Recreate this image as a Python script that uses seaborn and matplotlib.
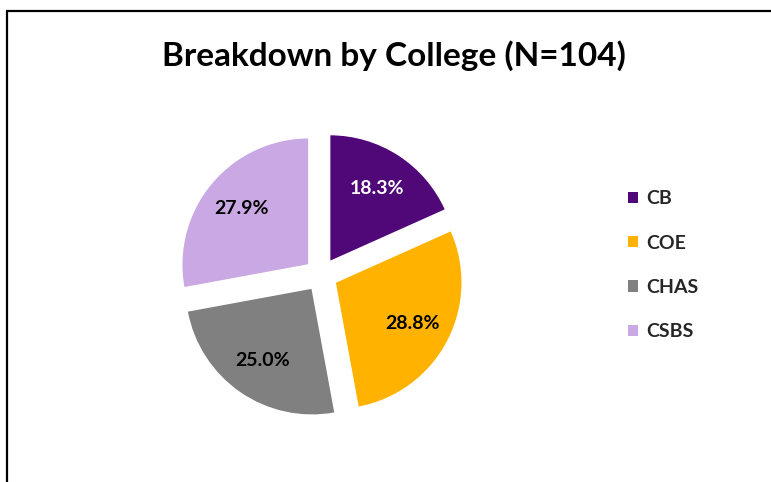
import matplotlib
matplotlib.use("Agg")
import matplotlib.pyplot as plt
import seaborn as sns
from matplotlib.patches import Patch
from matplotlib.lines import Line2D

sns.set_theme(style="white")
plt.rcParams['font.family'] = ['Lato', 'DejaVu Sans']

# data
colleges = ['CB', 'COE', 'CHAS', 'CSBS']
shares = [18.3, 28.8, 25.0, 27.9]
colors = ['#500778', '#FFB300', '#808080', '#C9A8E3']
label_colors = ['white', 'black', 'black', 'black']

fig = plt.figure(figsize=(7.71, 4.82), dpi=100)
fig.patch.set_facecolor('white')

ax = fig.add_axes([0.2104, 0.1000, 0.412, 0.659])
wedges, texts, autotexts = ax.pie(
    shares, colors=colors, startangle=90, counterclock=False,
    explode=[0.125] * len(shares), autopct='%1.1f%%', pctdistance=0.69,
    textprops={'fontsize': 14, 'fontweight': 'bold'})
for t, c in zip(autotexts, label_colors):
    t.set_color(c)
ax.set_xlim(-1.25, 1.25)
ax.set_ylim(-1.25, 1.25)
ax.set_aspect('equal')
ax.axis('off')

fig.text(0.511, 0.885, 'Breakdown by College (N=104)', ha='center', va='center',
         fontsize=24, fontweight='bold', color='black')

handles = [Patch(facecolor=c, edgecolor='none') for c in colors]
leg = fig.legend(handles, colleges, loc='upper left', bbox_to_anchor=(0.802, 0.625),
                 frameon=False, handlelength=0.5, handleheight=0.5, handletextpad=0.42,
                 labelspacing=1.4, borderpad=0, prop={'size': 14, 'weight': 'bold'})

# chart border (left and top edges visible in the crop)
fig.add_artist(Line2D([7 / 771, 7 / 771], [0, 1 - 11 / 482], transform=fig.transFigure,
                      color='black', linewidth=1.6))
fig.add_artist(Line2D([7 / 771, 1], [1 - 11 / 482, 1 - 11 / 482], transform=fig.transFigure,
                      color='black', linewidth=1.6))

fig.savefig('out.png', dpi=100, facecolor='white')
